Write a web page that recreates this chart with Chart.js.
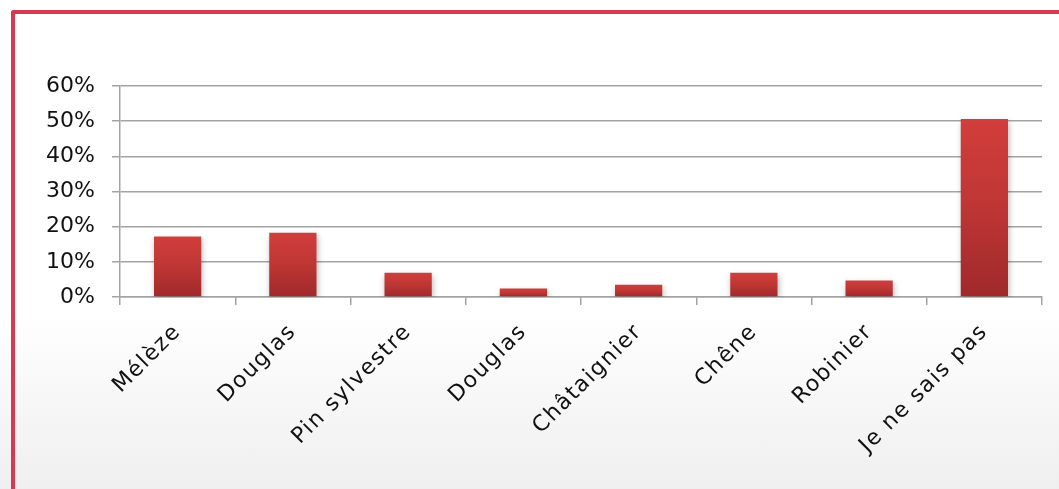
<!DOCTYPE html>
<html lang="fr">
<head>
<meta charset="utf-8">
<script src="https://cdn.jsdelivr.net/npm/chart.js@4"></script>
<style>
  html, body { margin: 0; padding: 0; }
  body {
    width: 1059px; height: 489px; overflow: hidden; position: relative;
    background: linear-gradient(to bottom, #ffffff 0%, #ffffff 64%, #efefef 100%);
  }
  .frame {
    position: absolute; left: 11px; top: 10px; width: 1100px; height: 520px;
    border-top: 4px solid #d7394f; border-left: 4px solid #d7394f;
    border-top-left-radius: 3px;
  }
  #wrap { position: absolute; left: 0; top: 0; width: 1059px; height: 489px; }
</style>
</head>
<body>
<div class="frame"></div>
<div id="wrap"><canvas id="speciesChart"></canvas></div>
<script>
// Essences citées (part des réponses, en %)
const species = ['Mélèze', 'Douglas', 'Pin sylvestre', 'Douglas', 'Châtaignier', 'Chêne', 'Robinier', 'Je ne sais pas'];
const shares = [17.2, 18.3, 6.9, 2.4, 3.5, 6.9, 4.7, 50.6];
const yTicksMax = 60;
const yTicksStep = 10;

const FONT = "'DejaVu Sans', sans-serif";
const GRID = '#a3a3a3';

// vertical gradient per bar, from its top down to the baseline
function barFill(ctx) {
  const chart = ctx.chart;
  if (!chart.chartArea || ctx.raw == null) return '#c0373a';
  const y = chart.scales.y;
  const top = y.getPixelForValue(ctx.raw);
  const base = y.getPixelForValue(0);
  const g = chart.ctx.createLinearGradient(0, top, 0, base);
  g.addColorStop(0, '#d13e3b');
  g.addColorStop(0.45, '#c03735');
  g.addColorStop(1, '#a0292a');
  return g;
}

const barShadow = {
  id: 'barShadow',
  beforeDatasetsDraw(chart) {
    const c = chart.ctx;
    c.save();
    c.shadowColor = 'rgba(0,0,0,0.28)';
    c.shadowBlur = 6;
    c.shadowOffsetX = 1;
    c.shadowOffsetY = 3;
  },
  afterDatasetsDraw(chart) {
    chart.ctx.restore();
  }
};

// wider letter spacing on the category labels only
function spaceLabels(scale) {
  if (scale._spaced) return;
  const draw = scale.drawLabels.bind(scale);
  scale.drawLabels = (area) => {
    scale.ctx.save();
    scale.ctx.letterSpacing = '1.5px';
    draw(area);
    scale.ctx.restore();
  };
  scale._spaced = true;
}

new Chart(document.getElementById('speciesChart'), {
  type: 'bar',
  data: {
    labels: species,
    datasets: [
      {
        data: shares,
        backgroundColor: barFill,
        borderWidth: 0,
        categoryPercentage: 1,
        barPercentage: 0.41,
      },
    ],
  },
  plugins: [barShadow],
  options: {
    responsive: true,
    maintainAspectRatio: false,
    animation: false,
    layout: { padding: { left: 0, top: 86, right: 17, bottom: 2 } },
    plugins: { legend: { display: false }, tooltip: { enabled: false } },
    scales: {
      x: {
        afterFit: (s) => { s.height = 190; spaceLabels(s); },
        grid: { display: true, drawOnChartArea: false, color: GRID, lineWidth: 1.5, tickLength: 8 },
        border: { display: true, color: GRID, width: 1.5 },
        ticks: {
          autoSkip: false, maxRotation: 45, minRotation: 45, padding: 14,
          color: '#111', font: { family: FONT, size: 22 },
        },
      },
      y: {
        min: 0,
        max: yTicksMax,
        afterFit: (s) => { s.width = 120; },
        grid: { color: GRID, lineWidth: 1.5, tickLength: 8 },
        border: { display: true, color: GRID, width: 1.5 },
        ticks: {
          stepSize: yTicksStep, padding: 17,
          color: '#111', font: { family: FONT, size: 22 },
          callback: (v) => v + '%',
        },
      },
    },
  },
});
</script>
</body>
</html>
